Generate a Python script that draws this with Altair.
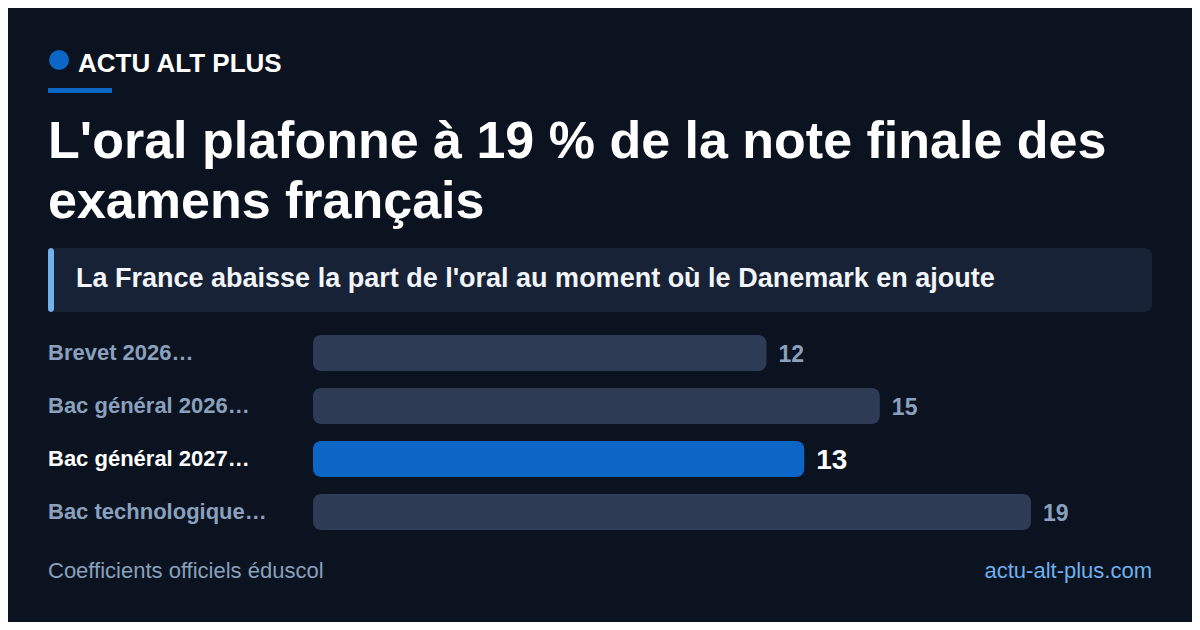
import altair as alt
import pandas as pd

# ---- data ----
categories = ["Brevet 2026…", "Bac général 2026…", "Bac général 2027…", "Bac technologique…"]
values = [12, 15, 13, 19]
highlight = [False, False, True, False]

brand = "ACTU ALT PLUS"
title_lines = ["L'oral plafonne à 19 % de la note finale des", "examens français"]
subtitle = "La France abaisse la part de l'oral au moment où le Danemark en ajoute"
source = "Coefficients officiels éduscol"
site = "actu-alt-plus.com"

# ---- styles ----
BG = "#0b1220"
BAR = "#2d3b55"
HL = "#0b66c6"
MUTED = "#8aa0bc"
FONT = "Liberation Sans"
OFF = 8  # page margin offset

W, H = 1200 - 2 * OFF, 630 - 2 * OFF

df = pd.DataFrame({"cat": categories, "val": values, "hl": highlight})
one = pd.DataFrame({"a": [0]})

xs = alt.Scale(domain=[0, 19], range=[313 - OFF, 1031 - OFF])
ys = alt.Scale(domain=categories, range=[326.5 - OFF, 538.5 - OFF], paddingInner=0.32, paddingOuter=0.16)

bars = alt.Chart(df).mark_bar(cornerRadius=8).encode(
    x=alt.X("val:Q", scale=xs, axis=None),
    x2=alt.datum(0),
    y=alt.Y("cat:N", scale=ys, axis=None),
    color=alt.condition("datum.hl", alt.value(HL), alt.value(BAR)),
)

vals_norm = alt.Chart(df).transform_filter("!datum.hl").mark_text(
    align="left", baseline="middle", dx=12, dy=2, font=FONT, fontSize=23, fontWeight="bold", color=MUTED
).encode(x=alt.X("val:Q", scale=xs, axis=None), y=alt.Y("cat:N", scale=ys, axis=None), text="val:Q")

vals_hl = alt.Chart(df).transform_filter("datum.hl").mark_text(
    align="left", baseline="middle", dx=12, dy=2, font=FONT, fontSize=28, fontWeight="bold", color="#ffffff"
).encode(x=alt.X("val:Q", scale=xs, axis=None), y=alt.Y("cat:N", scale=ys, axis=None), text="val:Q")

labels = alt.Chart(df).mark_text(
    align="left", baseline="middle", font=FONT, fontSize=22, fontWeight="bold"
).encode(
    x=alt.value(48 - OFF),
    y=alt.Y("cat:N", scale=ys, axis=None),
    text="cat:N",
    color=alt.condition("datum.hl", alt.value("#ffffff"), alt.value(MUTED)),
)

def rect(x1, x2, y1, y2, color, r=0):
    return alt.Chart(one).mark_rect(color=color, cornerRadius=r).encode(
        x=alt.value(x1 - OFF), x2=alt.value(x2 - OFF), y=alt.value(y1 - OFF), y2=alt.value(y2 - OFF)
    )

def text(t, x, y, size, color, weight="normal", align="left", baseline="alphabetic"):
    return alt.Chart(pd.DataFrame({"t": [t]})).mark_text(
        align=align, baseline=baseline, font=FONT, fontSize=size, fontWeight=weight, color=color
    ).encode(x=alt.value(x - OFF), y=alt.value(y - OFF), text="t:N")

dot = alt.Chart(one).mark_point(filled=True, shape="circle", size=400, color=HL, opacity=1).encode(
    x=alt.value(59 - OFF), y=alt.value(60 - OFF)
)

layers = [
    dot,
    text(brand, 78, 72, 26, "#ffffff", "bold"),
    rect(48, 112, 88, 93, HL),
    text(title_lines[0], 48, 158, 52, "#ffffff", "bold"),
    text(title_lines[1], 48, 218, 52, "#ffffff", "bold"),
    rect(48, 1152, 248, 312, "#182236", 8),
    rect(48, 54, 248, 312, "#72b0ea", 3),
    text(subtitle, 76, 279, 27, "#f2f5f9", "bold", baseline="middle"),
    bars, vals_norm, vals_hl, labels,
    text(source, 48, 578, 22, MUTED),
    text(site, 1152, 578, 22, "#6fb0ec", align="right"),
]

chart = alt.layer(*layers).properties(
    width=W, height=H, autosize=alt.AutoSizeParams(type="none"), padding=0, background=BG
).configure_view(stroke=None)

chart.save("out.html", embed_options={"renderer": "svg", "actions": False})
